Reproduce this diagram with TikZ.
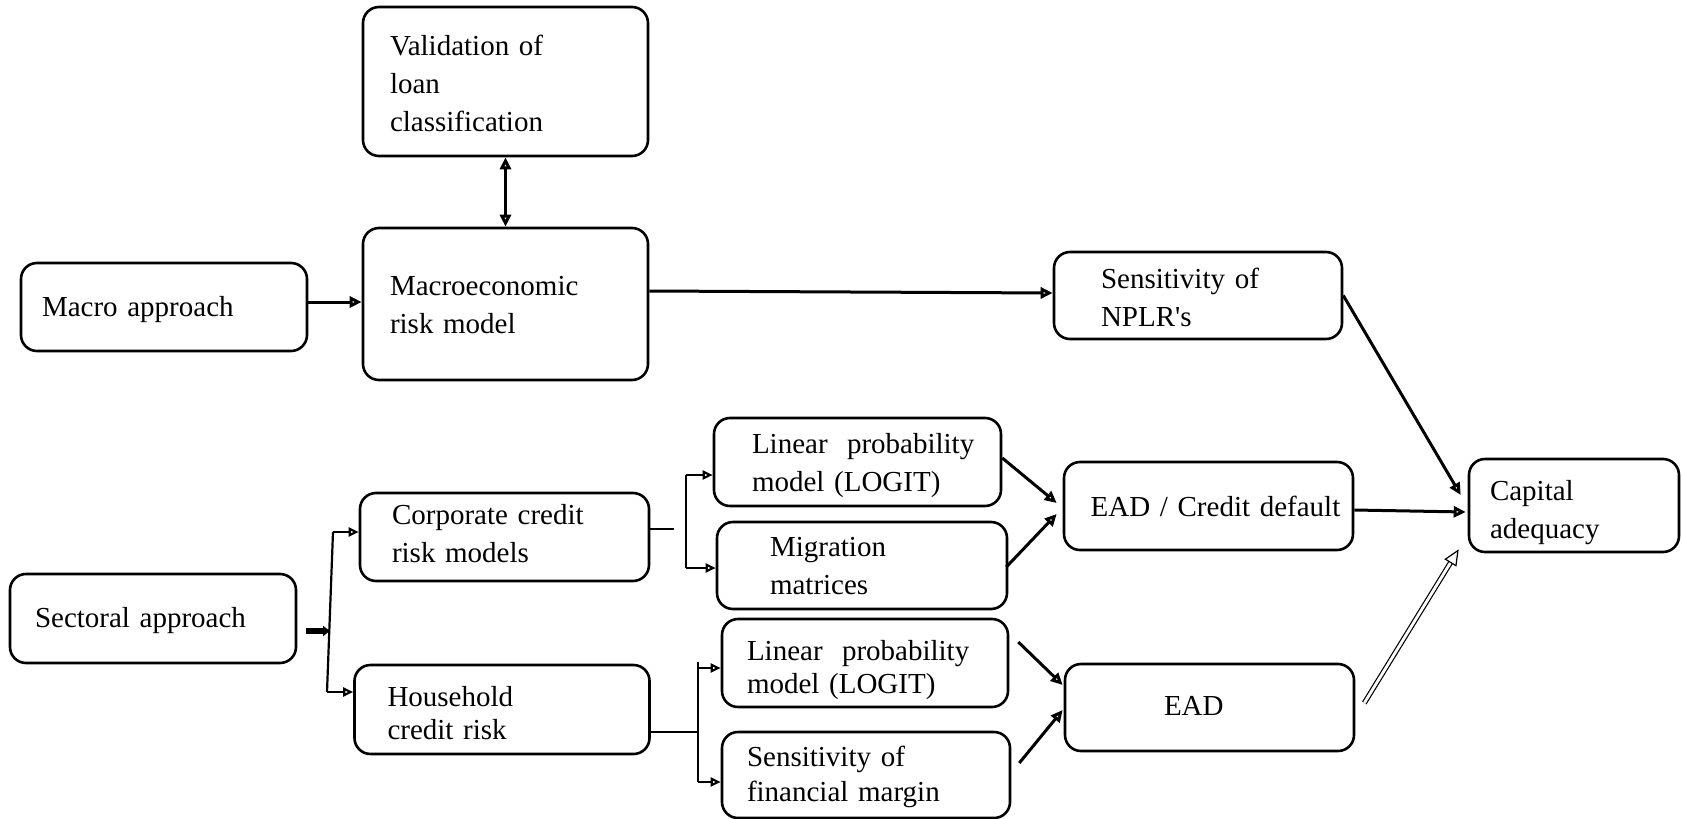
\documentclass[tikz,border=0pt]{standalone}
\usepackage{fontspec}
\setmainfont{Liberation Serif}[Ligatures=TeXOff]
\usetikzlibrary{arrows.meta}
\begin{document}
\begin{tikzpicture}[x=0.5pt,y=-0.5pt,
  bx/.style={draw, line width=1.3pt, rounded corners=8pt, align=left, inner ysep=0pt,
             font=\fontsize{14.5pt}{19pt}\selectfont},
  below base/.style={text height=#1, text depth=0pt},
  above base/.style={text height=0pt, text depth=#1},
  tight/.style={font=\fontsize{14.5pt}{#1}\selectfont},
  ar/.style={line width=1.5pt, -{Triangle[open,length=6pt,width=5.5pt]}},
  dar/.style={line width=1.5pt, {Triangle[open,length=6pt,width=5.5pt]}-{Triangle[open,length=6pt,width=5.5pt]}},
  thinl/.style={line width=1.1pt},
  sar/.style={line width=1.1pt, -{Triangle[open,length=5pt,width=4.5pt]}},
  fat/.style={line width=2.6pt, -{Triangle[length=3.5pt,width=5pt]}},
  dbl/.style={double, double distance=1.4pt, line width=0.6pt,
              -{Triangle[open,length=8pt,width=7pt,line width=0.6pt]}},
]
\useasboundingbox (0,0) rectangle (1682,819);

% boxes
\node[bx, above base=26.5pt, minimum height=74.5pt, text width=115.5pt, inner xsep=13.5pt] (val) at (505.5,81.5)
  {Validation of\\loan\\classification};
\node[bx, above base=9pt, minimum height=76pt, text width=115.5pt, inner xsep=13.5pt] (macro) at (505.5,304)
  {Macroeconomic\\risk model};
\node[bx, below base=9pt, minimum height=44pt, text width=122pt, inner xsep=10.5pt] (mapp) at (164,307)
  {Macro approach};
\node[bx, above base=7pt, minimum height=43.5pt, text width=97pt, inner xsep=23.5pt] (nplr) at (1198,295.5)
  {Sensitivity of\\NPLR's};
\node[bx, above base=5.5pt, minimum height=46.5pt, text width=84pt, inner xsep=10.5pt] (cap) at (1574,505.5)
  {Capital\\adequacy};
\node[bx, below base=10.7pt, minimum height=44pt, text width=144.5pt, inner xsep=0pt, align=center] (ead1) at (1208.5,506)
  {\hspace*{7pt}EAD / Credit default};
\node[bx, below base=8.5pt, minimum height=44.5pt, text width=118pt, inner xsep=12.5pt] (sect) at (153,618.5)
  {Sectoral approach};
\node[bx, above base=12.5pt, minimum height=44pt, text width=112.5pt, inner xsep=16pt] (corp) at (504.5,537)
  {Corporate credit\\risk models};
\node[bx, tight=16.7pt, above base=3pt, minimum height=44.5pt, text width=114.5pt, inner xsep=16.5pt] (hh) at (502,709.5)
  {Household\\credit risk};
\node[bx, above base=8.7pt, minimum height=44pt, text width=105.5pt, inner xsep=19pt] (lin1) at (857.5,462)
  {\mbox{Linear\ \ probability}\\\mbox{model (LOGIT)}};
\node[bx, above base=8.8pt, minimum height=43.5pt, text width=92pt, inner xsep=26.5pt] (mig) at (862,565.5)
  {Migration\\matrices};
\node[bx, tight=16.7pt, above base=3pt, minimum height=44pt, text width=118pt, inner xsep=12.5pt] (lin2) at (865,663)
  {\mbox{Linear\ \ probability}\\\mbox{model (LOGIT)}};
\node[bx, tight=17.5pt, above base=8.3pt, minimum height=43pt, text width=119pt, inner xsep=12.5pt] (sfm) at (866,775)
  {Sensitivity of\\financial margin};
\node[bx, below base=7.5pt, minimum height=43.5pt, text width=45.5pt, inner xsep=49.5pt] (ead2) at (1209.5,707.5)
  {EAD};

% branch points
\coordinate (st) at (333,532);
\coordinate (sb) at (327,692);
\coordinate (sm) at (330,631);
\coordinate (ct) at (686,475);
\coordinate (cb) at (686,568);
\coordinate (ht) at (698,662);
\coordinate (hu) at (698,668);
\coordinate (hb) at (698,782);

% macro part
\draw[dar] (val.south) -- (macro.north);
\draw[ar] ([yshift=2.5pt]mapp.east) -- ([yshift=2.5pt]mapp.east -| macro.west);
\draw[ar] ([yshift=6.5pt]macro.east) -- ([yshift=1.25pt]nplr.west);
\draw[ar] (nplr.east) -- ([xshift=-3.5pt,yshift=5.25pt]cap.west);

% sectoral part
\draw[fat] ([xshift=4.5pt,yshift=-6.25pt]sect.east) -- (sm);
\draw[thinl] (st) -- (sb);
\draw[sar] (st) -- (st -| corp.west);
\draw[sar] (sb) -- (sb -| hh.west);

\draw[thinl] ([yshift=4pt]corp.east) -- ++(12pt,0);
\draw[thinl] (ct) -- (cb);
\draw[sar] (ct) -- (ct -| lin1.west);
\draw[sar] (cb) -- (cb -| mig.west);

\draw[thinl] ([yshift=-11.25pt]hh.east) -- ([yshift=-11.25pt]hh.east -| ht);
\draw[thinl] (ht) -- (hb);
\draw[sar] (hu) -- (hu -| lin2.west);
\draw[sar] (hb) -- (hb -| sfm.west);

% to EAD boxes
\draw[ar] ([yshift=2pt]lin1.east) -- ([xshift=-3pt,yshift=1.5pt]ead1.west);
\draw[ar] ([xshift=-1pt,yshift=-0.75pt]mig.east) -- ([xshift=-3pt,yshift=-4pt]ead1.west);
\draw[ar] ([xshift=4.5pt,yshift=10.5pt]lin2.east) -- ([xshift=-0.5pt,yshift=11.25pt]ead2.west);
\draw[ar] ([xshift=4pt,yshift=6pt]sfm.east) -- ([xshift=-0.5pt,yshift=-1.25pt]ead2.west);

% to capital adequacy
\draw[ar] ([yshift=-2pt]ead1.east) -- ([xshift=-1pt,yshift=-3.25pt]cap.west);
\draw[dbl] ([xshift=4.5pt,yshift=2.25pt]ead2.east) -- ([xshift=-4.5pt,yshift=2pt]cap.south west);
\end{tikzpicture}
\end{document}
